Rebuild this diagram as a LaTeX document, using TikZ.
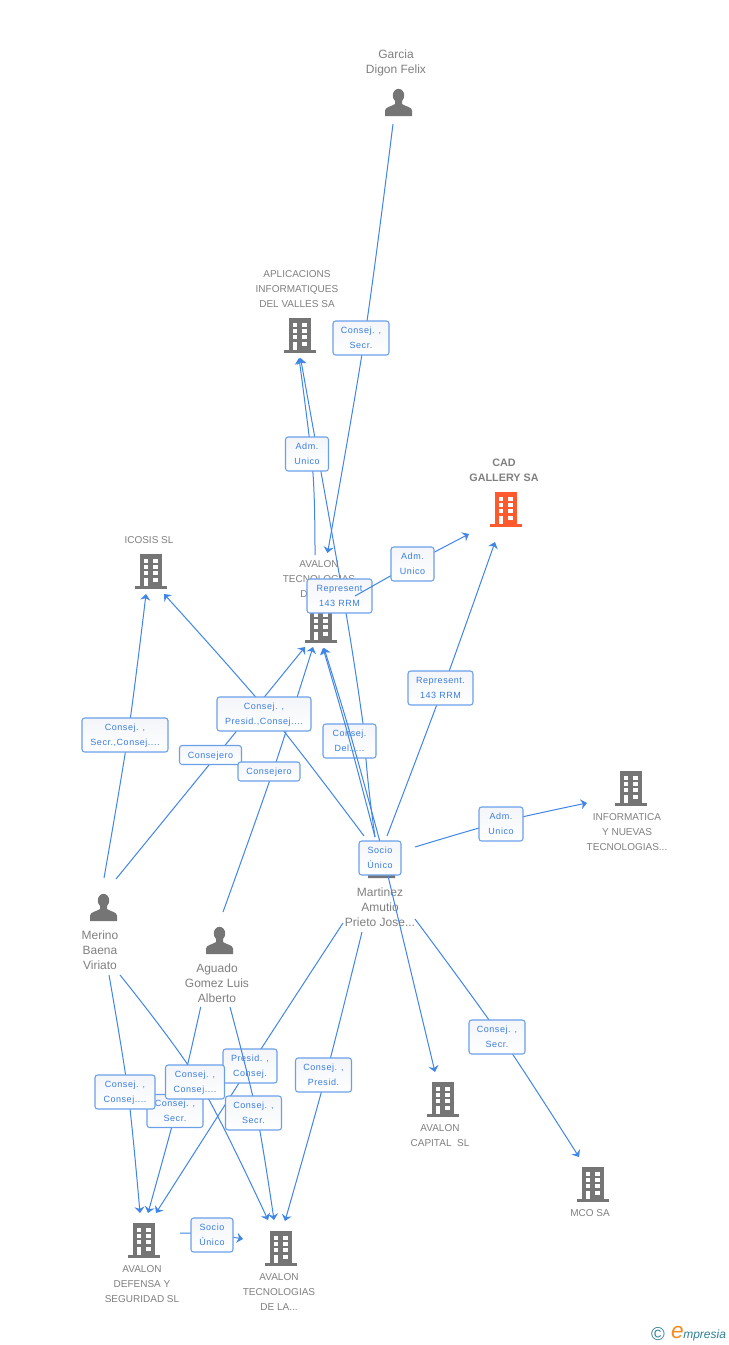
\documentclass[tikz,border=0pt]{standalone}
\usepackage{fontspec}
\setmainfont{Liberation Sans}
\newfontfamily\lblface[LetterSpace=6]{Liberation Sans}
\usetikzlibrary{arrows.meta}
\definecolor{linkblue}{HTML}{3F86E6}
\definecolor{boxblue}{HTML}{6AA0EA}
\definecolor{txtblue}{HTML}{3A7DE0}
\definecolor{entgray}{HTML}{808080}
\definecolor{icongray}{HTML}{757575}
\definecolor{cadorange}{HTML}{FF5A2D}
\definecolor{logoteal}{HTML}{2F7F96}
\definecolor{logoorange}{HTML}{F58A1F}
\definecolor{boxshade}{HTML}{F3F5F9}
\tikzset{
  link/.style={draw=linkblue,line width=0.75pt},
  arrowed/.style={-{Stealth[length=4.6pt,width=7.5pt,inset=1.5pt]}},
  lblbox/.style={draw=boxblue,line width=0.8pt,rounded corners=2pt,top color=boxshade,bottom color=white,
    inner sep=0pt,outer sep=0pt,align=center,text=txtblue,font=\lblface\fontsize{6.75}{11.25}\selectfont},
  ent/.style={inner sep=0pt,align=center,text=entgray,font=\fontsize{7.5}{11.25}\selectfont},
  perent/.style={ent,font=\fontsize{9}{11.25}\selectfont},
  entbold/.style={ent,font=\bfseries\fontsize{8.1}{11.25}\selectfont},
}
% building icon: name, centre x, top y, colour
\newcommand{\bldicon}[4]{%
  \coordinate (#1) at (#2,#3);
  \begin{scope}[shift={(#2,#3)}]
    \fill[#4] (-11,0) rectangle (11,33);
    \fill[#4] (-16,32.2) rectangle (16,34.6);
    \foreach \wy in {4.7,11,17.3}{
      \fill[white] (-7,\wy) rectangle (-2.7,\wy+4);
      \fill[white] (2.3,\wy) rectangle (7,\wy+4);
    }
    \fill[white] (2.3,23.7) rectangle (7,27.7);
    \fill[white] (-7,23.7) rectangle (-2.7,32.2);
  \end{scope}}
% person icon: name, centre x, top y
\newcommand{\pericon}[3]{%
  \coordinate (#1) at (#2,#3);
  \begin{scope}[shift={(#2,#3)}]
    \fill[icongray] (0,6.5) ellipse (5.7 and 6.7);
    \fill[icongray] (-13.5,27) -- (-13.5,21.5) .. controls (-13.5,18) and (-7,17.5) .. (-3.5,15)
      -- (-3.5,11) -- (3.5,11) -- (3.5,15) .. controls (7,17.5) and (13.5,18) .. (13.5,21.5) -- (13.5,27) -- cycle;
  \end{scope}}
% connector through a box: name, start, via, end
\newcommand{\conn}[4]{%
  \coordinate (#1s) at (#2);
  \coordinate (#1m) at (#3);
  \coordinate (#1e) at (#4);
  \draw[link,arrowed] plot[smooth,tension=0.55] coordinates {(#1s) (#1m) (#1e)};}
% label box: name, cx, cy, w, h, text
\newcommand{\lblbox}[6]{%
  \node[lblbox,minimum width={#4*0.75pt},minimum height={#5*0.75pt}] (#1) at (#2,#3)
    {\rule{0pt}{6.35pt}#6\rule[-1.5pt]{0pt}{1.5pt}};}
\begin{document}
\begin{tikzpicture}[x=0.75pt,y=-0.75pt]
\useasboundingbox (0,0) rectangle (728,1345);
\fill[white] (0,0) rectangle (728,1345);

% entity icons
\pericon{garcia}{398.5}{89}
\bldicon{aplic}{300}{318}{icongray}
\bldicon{cad}{506}{492}{cadorange}
\bldicon{icosis}{151}{554}{icongray}
\bldicon{tecd}{321}{608}{icongray}
\bldicon{info}{630.5}{771}{icongray}
\pericon{martinez}{381.5}{851}
\pericon{merino}{103.5}{894}
\pericon{aguado}{219.5}{927}
\bldicon{capital}{443}{1082}{icongray}
\bldicon{mco}{593}{1167}{icongray}
\bldicon{defensa}{144}{1223}{icongray}
\bldicon{teclal}{281}{1231}{icongray}

% entity names
\node[perent] (tGarcia) at (396,62.5) {Garcia\\Digon Felix};
\node[ent] (tAplic) at (297,289) {APLICACIONS\\INFORMATIQUES\\DEL VALLES SA};
\node[entbold] (tCad) at (504,470.5) {CAD\\GALLERY SA};
\node[ent] (tIcosis) at (149,540) {ICOSIS SL};
\node[ent] (tTecd) at (319,579) {AVALON\\TECNOLOGIAS\\DE LA...};
\node[ent] (tInfo) at (627,832) {INFORMATICA\\Y NUEVAS\\TECNOLOGIAS...};
\node[perent] (tMartinez) at (380,907) {Martinez\\Amutio\\Prieto Jose...};
\node[perent] (tMerino) at (100,950) {Merino\\Baena\\Viriato};
\node[perent] (tAguado) at (217,983) {Aguado\\Gomez Luis\\Alberto};
\node[ent] (tCapital) at (440,1135.5) {AVALON\\CAPITAL\ \ SL};
\node[ent] (tMco) at (590,1213) {MCO SA};
\node[ent] (tDefensa) at (142,1284) {AVALON\\DEFENSA Y\\SEGURIDAD SL};
\node[ent] (tTeclal) at (279,1292) {AVALON\\TECNOLOGIAS\\DE LA...};

% connectors and their labels
\conn{ga}{393,124}{364.5,338}{327.5,553}
\lblbox{bGa}{361}{338}{56}{34}{Consej. ,\\Secr.}

\conn{mb}{363.5,727}{346,613}{300.5,358}
\draw[link] (375,837) to[bend left=2] (mbs);
\lblbox{bRep}{339.5}{596}{65}{34}{Represent\\143 RRM}

\conn{ta}{315,555}{312.8,471}{299,358}
\lblbox{bAdm}{307}{454}{43}{34}{Adm.\\Unico}

\conn{tc}{355,596}{412,564}{469,534}
\lblbox{bAdmC}{412.5}{564}{43}{34}{Adm.\\Unico}

\conn{mc}{387,836}{443,688}{495,542}
\lblbox{bRepC}{440.5}{688}{65}{34}{Represent.\\143 RRM}

\lblbox{bDel}{349.5}{741}{53}{34}{Consej.\\Del.,...}
\conn{mt}{375,837}{347.5,733}{323,648}
\conn{mu}{380,842}{350,733}{324,648}

\conn{mer}{104,878}{128,735}{146,594}
\lblbox{bSecr}{125}{735}{86}{34}{Consej. ,\\Secr.,Consej....}

\conn{mi}{364,836}{270,714}{164,594}
\conn{me}{116,879}{222,749}{305,647}
\conn{ag}{223,912}{273,771}{313,647}
\lblbox{bPres}{264}{714}{94}{34}{Consej. ,\\Presid.,Consej....}
\lblbox{bCe}{210.5}{755}{62}{19}{Consejero}
\lblbox{bCf}{269}{771.5}{62}{19}{Consejero}

\conn{in}{415,847}{501,822}{587,803}
\lblbox{bInf}{501}{824}{44}{34}{Adm.\\Unico}

\conn{mo}{415,919}{501,1037}{579,1157}
\lblbox{bMco}{497}{1037}{56}{34}{Consej. ,\\Secr.}

\conn{ca}{380,842}{388,876}{435,1072}
\lblbox{bSoc}{380}{858}{42}{34}{Socio\\Único}

\conn{tl}{362,932}{326,1075}{285,1221}
\lblbox{bCp}{323.5}{1075}{56}{34}{Consej. ,\\Presid.}

\conn{md}{343,923}{250,1066}{156,1213}
\lblbox{bPc}{250}{1066}{54}{34}{Presid. ,\\Consej.}

\conn{ad}{200.7,1007}{180,1096}{148,1213}
\lblbox{bCs}{175}{1111}{56}{33}{Consej. ,\\Secr.}

\conn{mr}{109,975}{128,1092}{140,1213}
\lblbox{bCc}{125}{1092}{60}{34}{Consej. ,\\Consej....}

\conn{mq}{120,975}{199,1082}{268,1220}
\lblbox{bCd}{195}{1082}{59}{34}{Consej. ,\\Consej....}

\conn{at}{230,1007}{256.5,1113}{274,1220}
\lblbox{bCt}{253.5}{1113}{56}{34}{Consej. ,\\Secr.}

\conn{ds}{180,1233}{212,1234}{243,1239}
\lblbox{bSu}{212}{1235}{42}{34}{Socio\\Único}

% logo
\node[inner sep=0pt,text=logoteal,font=\fontsize{14}{14}\selectfont] (logoC) at (658,1334) {©};
\node[inner sep=0pt,text=logoorange,font=\itshape\fontsize{17}{17}\selectfont] (logoE) at (677.5,1332) {e};
\node[inner sep=0pt,anchor=west,text=logoteal,font=\itshape\fontsize{9}{10}\selectfont] (logoT) at (683,1335) {mpresia};
\end{tikzpicture}
\end{document}
